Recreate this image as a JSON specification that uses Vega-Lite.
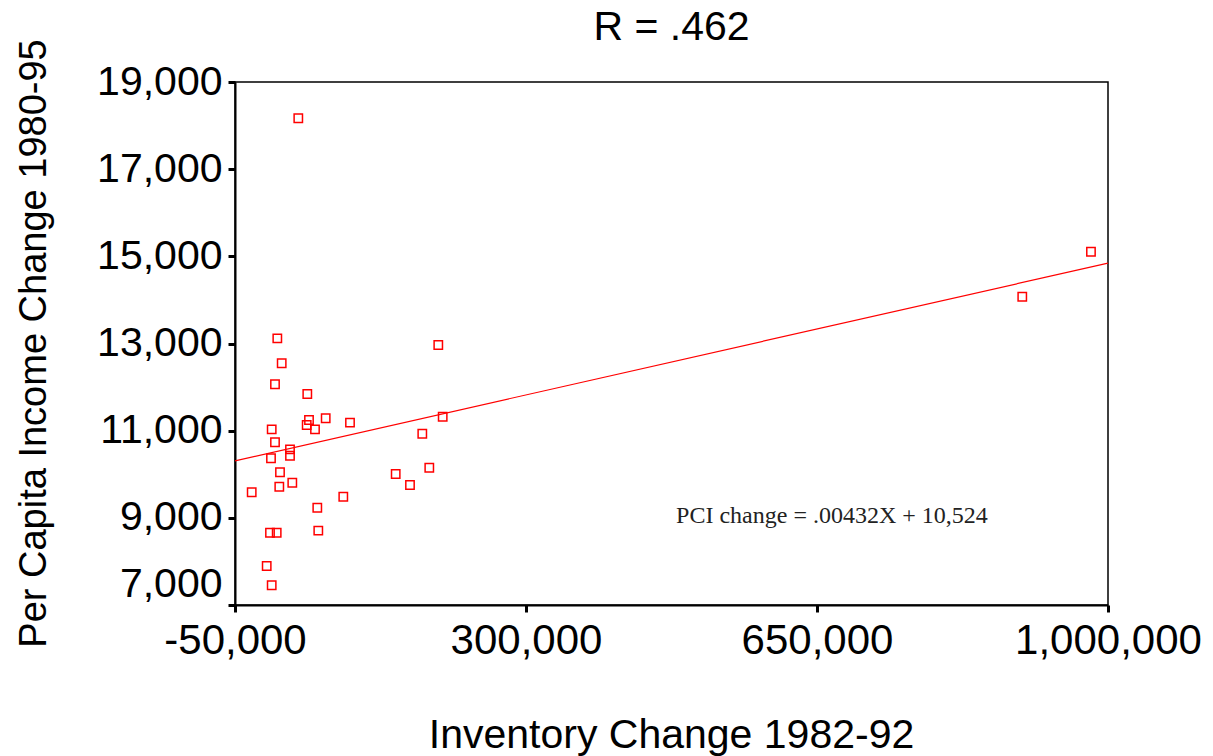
{
  "$schema": "https://vega.github.io/schema/vega-lite/v6.json",
  "width": 873,
  "height": 523,
  "autosize": {"type": "none"},
  "padding": {"left": 235, "top": 82, "right": 105, "bottom": 151},
  "background": "white",
  "title": {
    "text": "R = .462",
    "font": "Liberation Sans",
    "fontSize": 41,
    "fontWeight": "normal",
    "color": "black",
    "anchor": "middle",
    "frame": "group",
    "baseline": "alphabetic",
    "offset": -42
  },
  "datasets": {
    "pts": [
      {"inv": 900, "pci": 13119},
      {"inv": 6166, "pci": 12546},
      {"inv": -1892, "pci": 12064},
      {"inv": 36955, "pci": 11841},
      {"inv": 194509, "pci": 12965},
      {"inv": 39000, "pci": 11245},
      {"inv": 36234, "pci": 11130},
      {"inv": 59085, "pci": 11284},
      {"inv": 46216, "pci": 11031},
      {"inv": 88311, "pci": 11183},
      {"inv": -5861, "pci": 11031},
      {"inv": -1892, "pci": 10733},
      {"inv": 16149, "pci": 10572},
      {"inv": 16149, "pci": 10425},
      {"inv": -6703, "pci": 10366},
      {"inv": 4122, "pci": 10045},
      {"inv": 3280, "pci": 9714},
      {"inv": 18915, "pci": 9806},
      {"inv": -29915, "pci": 9586},
      {"inv": 80252, "pci": 9485},
      {"inv": 48982, "pci": 9232},
      {"inv": 50185, "pci": 8705},
      {"inv": -7905, "pci": 8659},
      {"inv": 153, "pci": 8659},
      {"inv": -11874, "pci": 7895},
      {"inv": -5861, "pci": 7452},
      {"inv": 143274, "pci": 10006},
      {"inv": 160473, "pci": 9753},
      {"inv": 183685, "pci": 10150},
      {"inv": 175266, "pci": 10930},
      {"inv": 199801, "pci": 11320},
      {"inv": 26131, "pci": 18167},
      {"inv": 896886, "pci": 14074},
      {"inv": 979511, "pci": 15106}
    ],
    "fit": [
      {"inv": -50000, "pci": 10308},
      {"inv": 1000000, "pci": 14844}
    ],
    "note": [
      {"inv": 668000, "pci": 9042, "label": "PCI change = .00432X + 10,524"}
    ]
  },
  "layer": [
    {
      "data": {"name": "pts"},
      "mark": {"type": "point", "shape": "square", "filled": false, "color": "#ff0000", "strokeWidth": 1.5, "size": 70, "opacity": 1},
      "encoding": {
        "x": {
          "field": "inv", "type": "quantitative",
          "scale": {"domain": [-50000, 1000000], "nice": false, "zero": false},
          "axis": {
            "title": "Inventory Change 1982-92",
            "values": [-50000, 300000, 650000, 1000000],
            "labelExpr": "datum.value < 0 ? '-' + format(-datum.value, ',') : format(datum.value, ',')",
            "grid": false,
            "labelFlush": false,
            "labelOverlap": false,
            "labelLimit": 400,
            "labelFontSize": 42,
            "titleX": 436,
            "titleY": 142,
            "titleBaseline": "alphabetic",
            "titleFontSize": 41,
            "labelPadding": 8
          }
        },
        "y": {
          "field": "pci", "type": "quantitative",
          "scale": {"domain": [7000, 19000], "nice": false, "zero": false},
          "axis": {
            "title": "Per Capita Income Change 1980-95",
            "values": [7000, 9000, 11000, 13000, 15000, 17000, 19000],
            "labelExpr": "format(datum.value, ',')",
            "grid": false,
            "labelFlush": false,
            "labelOverlap": false,
            "labelLimit": 400,
            "labelFontSize": 41,
            "titleX": -190,
            "titleY": 261,
            "titleAngle": -90,
            "titleAlign": "center",
            "titleBaseline": "alphabetic",
            "titleFontSize": 38,
            "titleLimit": 1000,
            "labelPadding": 6,
            "labelBaseline": {"condition": {"test": "datum.value == 7000", "value": "bottom"}, "value": "middle"}
          }
        }
      }
    },
    {
      "data": {"name": "fit"},
      "mark": {"type": "line", "color": "#ff0000", "strokeWidth": 1.2},
      "encoding": {
        "x": {"field": "inv", "type": "quantitative"},
        "y": {"field": "pci", "type": "quantitative"}
      }
    },
    {
      "data": {"name": "note"},
      "mark": {"type": "text", "font": "Liberation Serif", "fontSize": 24, "color": "#222222", "align": "center", "baseline": "middle"},
      "encoding": {
        "x": {"field": "inv", "type": "quantitative"},
        "y": {"field": "pci", "type": "quantitative"},
        "text": {"field": "label"}
      }
    }
  ],
  "config": {
    "view": {"stroke": "black", "strokeWidth": 1.5},
    "axis": {
      "domainColor": "black",
      "domainWidth": 2,
      "tickColor": "black",
      "tickWidth": 3,
      "tickSize": 7,
      "labelFont": "Liberation Sans",
      "labelFontSize": 40,
      "labelColor": "black",
      "titleFont": "Liberation Sans",
      "titleFontSize": 40,
      "titleFontWeight": "normal",
      "titleColor": "black"
    }
  }
}
